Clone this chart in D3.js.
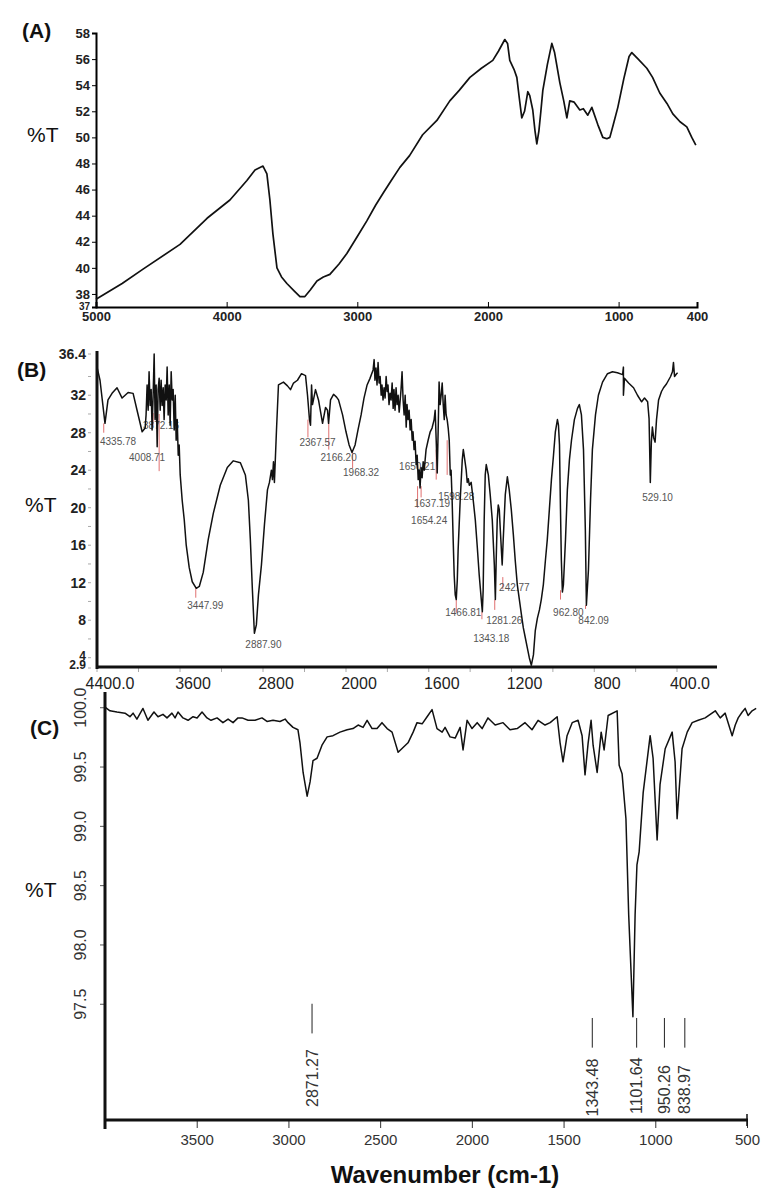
<!DOCTYPE html>
<html>
<head>
<meta charset="utf-8">
<script src="https://cdn.jsdelivr.net/npm/d3@7"></script>
<style>
  body { margin: 0; background: #fff; }
  svg { display: block; }
</style>
</head>
<body>
<svg id="chart"></svg>
<script>
// ---------- data (wavenumber cm-1, %T) ----------
const specA = [[5000,37.6],[4800,38.8],[4640,39.9],[4357,41.8],[4150,43.8],[3975,45.2],[3845,46.7],[3783,47.5],[3722,47.8],[3692,47.2],[3669,45.2],[3646,42.6],[3615,40.0],[3580,39.3],[3539,38.8],[3480,38.2],[3439,37.8],[3401,37.8],[3360,38.3],[3309,39.0],[3260,39.3],[3210,39.5],[3140,40.3],[3080,41.1],[3000,42.4],[2927,43.6],[2860,44.8],[2804,45.7],[2740,46.7],[2674,47.7],[2600,48.6],[2500,50.2],[2391,51.3],[2292,52.8],[2220,53.6],[2138,54.6],[2050,55.3],[1963,55.9],[1920,56.6],[1871,57.5],[1850,57.2],[1833,55.9],[1800,55.2],[1779,54.6],[1760,53.0],[1741,51.5],[1720,52.0],[1695,53.5],[1680,53.2],[1657,52.1],[1640,50.5],[1626,49.5],[1610,50.5],[1595,52.0],[1580,53.6],[1545,55.6],[1511,57.2],[1490,56.5],[1450,54.2],[1420,52.8],[1396,51.5],[1374,52.8],[1340,52.7],[1297,52.1],[1270,52.2],[1236,51.7],[1205,52.3],[1160,51.0],[1121,50.0],[1090,49.9],[1067,50.0],[1040,51.0],[1006,52.3],[960,54.5],[920,56.2],[899,56.5],[850,56.0],[784,55.3],[740,54.6],[685,53.4],[630,52.6],[585,51.8],[530,51.2],[478,50.8],[440,50.0],[409,49.4]];
const ticksAx = [5000, 4000, 3000, 2000, 1000, 400];
const ticksAy = [37, 38, 40, 42, 44, 46, 48, 50, 52, 54, 56, 58];

const specB = [[4400,35.0],[4371,33.6],[4323,29.0],[4294,31.5],[4255,32.2],[4207,32.8],[4158,31.7],[4100,32.3],[4052,32.2],[4014,30.4],[3965,28.1],[3936,28.5],
  [3927,29.9],[3917,33.1],[3907,30.4],[3898,34.5],[3888,30.9],[3878,32.6],[3869,28.3],[3859,32.0],[3849,36.4],[3840,29.4],[3830,33.1],[3820,26.5],[3811,32.6],[3801,33.8],[3791,30.4],[3782,33.6],[3772,30.9],[3762,32.8],[3753,29.4],[3743,33.1],[3733,31.5],[3724,35.0],[3714,29.9],[3704,33.1],[3695,28.8],[3685,34.5],[3675,31.5],[3666,32.6],[3656,28.3],[3646,32.0],[3637,27.2],[3627,29.4],[3617,25.6],[3608,26.7],[3598,23.5],
  [3579,20.8],[3559,18.7],[3540,16.0],[3511,13.6],[3482,12.1],[3443,11.4],[3414,11.6],[3376,13.1],[3328,16.6],[3279,19.4],[3212,22.4],[3144,24.3],[3086,25.0],[3018,24.8],[2970,23.5],[2941,20.8],[2922,16.6],[2902,11.2],[2883,6.6],[2864,7.5],[2844,10.7],[2815,13.9],[2786,18.2],[2757,21.9],[2738,22.7],[2719,24.0],[2709,23.0],[2699,24.9],[2690,22.7],[2670,28.3],[2651,33.1],[2603,33.4],[2564,33.0],[2535,32.6],[2506,33.3],[2468,33.6],[2429,34.3],[2390,34.1],[2371,32.0],[2352,29.4],[2342,28.8],[2332,33.1],[2323,31.0],[2294,32.6],[2265,31.5],[2226,29.0],[2197,30.7],[2178,30.4],[2168,29.0],[2149,31.5],[2120,32.1],[2091,31.8],[2072,31.5],[2033,29.9],[2000,28.1],[1985,26.7],[1971,25.9],[1956,26.7],[1942,28.3],[1927,29.9],[1913,31.7],[1898,33.1],[1884,33.8],
  [1869,34.7],[1864,35.8],[1860,33.6],[1855,34.9],[1850,33.1],[1845,35.5],[1840,33.3],[1835,34.0],[1830,32.0],[1826,33.1],[1821,31.5],[1816,32.8],[1811,31.7],[1806,34.0],[1801,32.4],[1797,33.1],[1792,31.0],[1787,32.2],[1782,31.5],[1777,33.3],[1772,30.6],[1768,32.6],[1763,30.4],[1758,32.8],[1753,31.0],[1748,32.0],[1743,30.2],[1738,31.5],[1734,32.6],[1729,34.5],[1724,31.5],[1719,29.9],[1714,32.0],[1709,28.6],[1705,31.0],[1700,29.4],[1695,30.4],[1690,28.3],[1685,29.4],[1680,27.2],[1676,28.1],[1671,26.2],[1666,27.1],[1661,24.6],[1656,25.6],[1651,23.0],[1646,24.0],[1642,22.1],[1637,24.3],[1632,23.2],[1627,24.9],[1622,24.0],[1613,26.2],[1603,27.2],[1593,28.1],[1584,28.5],[1574,29.4],[1569,30.4],[1564,27.2],[1559,23.7],[1554,28.8],[1550,33.4],[1545,31.0],[1540,32.0],[1535,33.3],[1530,31.0],[1525,29.4],[1521,32.0],[1516,29.9],[1511,29.4],[1506,28.5],[1501,27.2],[1496,23.5],[1492,24.0],[1487,20.8],[1482,16.6],[1477,12.8],[1472,10.7],[1467,10.2],[1462,12.3],[1458,15.5],[1448,20.8],[1438,25.1],[1433,26.2],[1429,25.6],[1419,24.0],[1414,22.7],[1409,23.1],[1404,22.4],[1395,22.7],[1385,20.8],[1375,18.7],[1366,16.0],[1356,12.8],[1346,10.2],[1341,8.9],[1337,11.2],[1332,18.7],[1327,23.5],[1322,24.6],[1312,23.5],[1303,21.4],[1293,18.7],[1283,13.9],[1278,10.2],[1274,14.4],[1269,18.7],[1264,20.3],[1259,19.8],[1254,17.6],[1245,13.9],[1240,16.6],[1230,21.4],[1220,23.3],[1211,21.9],[1201,19.8],[1191,17.1],[1182,14.4],[1172,11.8],[1162,10.2],[1152,8.6],[1143,7.2],[1133,6.1],[1123,5.0],[1114,4.0],[1104,3.2],[1094,4.3],[1085,6.9],[1075,8.2],[1065,9.1],[1056,10.2],[1046,11.8],[1036,14.4],[1027,16.6],[1017,19.8],[1007,23.0],[997,25.6],[988,28.1],[978,29.4],[973,28.8],[968,26.7],[964,20.8],[959,14.4],[954,11.0],[949,11.8],[939,16.6],[930,21.9],[920,25.1],[910,27.2],[896,29.4],[881,30.6],[872,31.0],[862,29.9],[852,26.2],[843,17.6],[838,9.6],[828,13.4],[818,20.8],[809,26.2],[794,29.9],[780,32.0],[760,33.4],[736,34.3],[712,34.5],[688,34.4],[663,34.2],[659,35.0],[659,32.0],[654,33.8],[634,33.3],[610,32.8],[591,32.0],[571,31.3],[557,31.7],[542,31.3],[535,29.5],[529,22.7],[524,27.0],[519,28.6],[513,27.5],[506,27.0],[499,29.4],[489,31.5],[475,32.4],[465,32.8],[451,33.2],[441,33.6],[431,34.0],[422,34.5],[417,35.5],[412,34.0],[402,34.3],[397,34.4]];
const ticksBx = [4400, 3600, 2800, 2000, 1600, 1200, 800, 400];
const tickTextBx = ["4400.0", "3600", "2800", "2000", "1600", "1200", "800", "400.0"];
const minorBx = [4400, 4000, 3600, 3200, 2800, 2400, 2000, 1800, 1600, 1400, 1200, 1000, 800, 600, 400];
const ticksBy = [2.9, 4, 8, 12, 16, 20, 24, 28, 32, 36.4];
const tickTextBy = ["2.9", "4", "8", "12", "16", "20", "24", "28", "32", "36.4"];
const minorBy = [6, 10, 14, 18, 22, 26, 30, 34];

// peak annotations of (B): label text, label centre (wavenumber, %T at baseline)
const peakTextB  = ["4335.78","3872.16","4008.71","3447.99","2887.90","2367.57","2166.20","1968.32","1650.21","1637.19","1654.24","1598.28","242.77","1466.81","1281.26","1343.18","962.80","842.09","529.10"];
const peakLabelWB = [4197, 3782, 3917, 3357, 2796, 2274, 2071, 1927, 1656, 1584, 1598, 1467, 1186, 1433, 1235, 1298, 925, 803, 494];
const peakLabelTB = [26.7, 28.4, 25.0, 9.2, 5.0, 26.6, 25.0, 23.4, 24.0, 20.1, 18.3, 20.8, 11.1, 8.4, 7.6, 5.7, 8.4, 7.6, 20.7];
// red marker lines of (B): wavenumber, %T top, %T bottom
const markWB   = [4335, 3859, 3801, 3448, 2367, 2166, 1968, 1654, 1637, 1564, 1511, 1242, 1467, 1281, 1343, 963, 842];
const markTopB = [29.0, 30.1, 30.0, 11.4, 29.4, 29.0, 25.9, 22.3, 22.3, 26.2, 27.2, 12.6, 10.2, 10.2, 8.9, 11.2, 9.6];
const markBotB = [28.0, 28.8, 23.9, 10.4, 27.5, 26.2, 24.2, 20.0, 21.1, 23.0, 23.5, 11.3, 8.8, 9.1, 8.1, 10.2, 9.2];

const specC = [[4000,100.0],[3973,99.97],[3935,99.96],[3891,99.95],[3864,99.92],[3847,99.95],[3826,99.90],[3793,99.99],[3766,99.89],[3733,99.96],[3711,99.92],[3684,99.94],[3662,99.91],[3635,99.95],[3618,99.91],[3602,99.96],[3575,99.91],[3547,99.89],[3520,99.92],[3498,99.91],[3471,99.96],[3444,99.91],[3422,99.89],[3389,99.91],[3357,99.87],[3329,99.90],[3302,99.87],[3275,99.91],[3253,99.91],[3220,99.89],[3182,99.89],[3144,99.91],[3117,99.88],[3084,99.89],[3046,99.88],[3018,99.90],[3002,99.87],[2975,99.83],[2948,99.81],[2937,99.70],[2920,99.45],[2898,99.25],[2882,99.37],[2866,99.55],[2844,99.57],[2817,99.68],[2789,99.75],[2757,99.76],[2719,99.79],[2680,99.81],[2648,99.82],[2620,99.85],[2593,99.83],[2571,99.89],[2544,99.82],[2517,99.82],[2490,99.87],[2462,99.82],[2435,99.79],[2402,99.62],[2375,99.66],[2348,99.70],[2320,99.79],[2299,99.87],[2271,99.86],[2244,99.92],[2217,99.98],[2190,99.82],[2162,99.79],[2146,99.83],[2119,99.75],[2091,99.74],[2064,99.83],[2048,99.64],[2026,99.89],[1999,99.82],[1971,99.87],[1944,99.82],[1912,99.91],[1873,99.85],[1830,99.87],[1792,99.81],[1753,99.82],[1710,99.87],[1672,99.81],[1639,99.89],[1601,99.85],[1573,99.87],[1535,99.92],[1519,99.70],[1503,99.54],[1481,99.76],[1453,99.87],[1421,99.89],[1399,99.76],[1383,99.43],[1366,99.70],[1350,99.89],[1339,99.68],[1317,99.45],[1295,99.79],[1279,99.64],[1257,99.93],[1208,99.97],[1197,99.51],[1181,99.44],[1160,99.06],[1145,98.25],[1122,97.39],[1110,98.25],[1100,98.67],[1088,98.78],[1066,99.28],[1028,99.76],[1012,99.57],[990,98.88],[974,99.35],[946,99.65],[908,99.79],[892,99.54],[881,99.06],[854,99.65],[826,99.79],[799,99.87],[766,99.89],[728,99.91],[673,99.97],[646,99.91],[619,99.95],[581,99.76],[564,99.85],[548,99.91],[526,99.96],[510,99.99],[494,99.93],[472,99.97],[450,99.99]];
const ticksCx = [3500, 3000, 2500, 2000, 1500, 1000, 500];
const ticksCy = [97.5, 98.0, 98.5, 99.0, 99.5, 100.0];
const peakWC = [2871.27, 1343.48, 1101.64, 950.26, 838.97];
const peakTextC = ["2871.27", "1343.48", "1101.64", "950.26", "838.97"];
const peakLineTopC = [97.50, 97.38, 97.38, 97.38, 97.38];
const peakLineBotC = [97.25, 97.13, 97.13, 97.13, 97.13];
const peakLabelTC = [96.63, 96.55, 96.57, 96.57, 96.57];

// ---------- drawing ----------
const W = 775, H = 1197;
const svg = d3.select('#chart').attr('width', W).attr('height', H)
  .style('font-family', 'Liberation Sans, Arial, sans-serif');
svg.append('rect').attr('width', W).attr('height', H).attr('fill', '#fff');

const narrow = '"Liberation Sans Narrow", "Arial Narrow", "Liberation Sans", sans-serif';

// panel letters and %T titles
const titles = [['(A)', 22, 38, 'bold'], ['(B)', 17, 377, 'bold'], ['(C)', 30, 735, 'bold'],
                ['%T', 27, 142, 'normal'], ['%T', 25, 512, 'normal'], ['%T', 25, 897, 'normal']];
titles.forEach(t => {
  svg.append('text').attr('x', t[1]).attr('y', t[2]).attr('font-size', 21)
    .attr('font-weight', t[3]).attr('fill', '#111').text(t[0]);
});

// ===== (A) =====
const xA = d3.scaleLinear().domain([5000, 400]).range([96, 697]);
const yA = d3.scaleLinear().domain([37, 58]).range([307, 33]);
const gA = svg.append('g');

gA.append('g').attr('transform', 'translate(0,307)')
  .call(d3.axisBottom(xA).tickValues(ticksAx).tickSize(-5).tickPadding(11).tickFormat(d3.format('d')))
  .call(g => g.select('.domain').attr('stroke-width', 2))
  .call(g => g.selectAll('text').attr('font-family', narrow).attr('font-weight', 'bold').attr('font-size', 13).attr('fill', '#222').attr('dy', '0.2em'));
gA.append('g').attr('transform', 'translate(96,0)')
  .call(d3.axisLeft(yA).tickValues(ticksAy).tickSize(4).tickPadding(2))
  .call(g => g.select('.domain').attr('stroke-width', 2))
  .call(g => g.selectAll('text').attr('font-family', narrow).attr('font-weight', 'bold')
    .attr('font-size', d => d === 37 ? 10 : 13).attr('dy', d => d === 37 ? '0.2em' : '0.32em').attr('fill', '#222'));

gA.append('path').datum(specA)
  .attr('fill', 'none').attr('stroke', '#111').attr('stroke-width', 1.7).attr('stroke-linejoin', 'round')
  .attr('d', d3.line().x(d => xA(d[0])).y(d => yA(d[1])));

// ===== (B) =====
// the instrument scale doubles below 2000 cm-1
const xB = d3.scaleLinear().domain([4400, 2000, 400, 206]).range([97, 346, 677, 717]);
const yB = d3.scaleLinear().domain([2.9, 36.4]).range([668, 354]);
const gB = svg.append('g');

gB.selectAll('line.minorx').data(minorBx).join('line')
  .attr('x1', d => xB(d)).attr('x2', d => xB(d)).attr('y1', 668).attr('y2', 672)
  .attr('stroke', '#aaa').attr('stroke-width', 1);
gB.selectAll('text.tickx').data(ticksBx).join('text')
  .attr('x', d => xB(d) + 13).attr('y', 689).attr('text-anchor', 'middle')
  .attr('font-size', 16).attr('fill', '#222').text((d, i) => tickTextBx[i]);
gB.selectAll('line.minory').data(minorBy.concat(ticksBy)).join('line')
  .attr('x1', 88).attr('x2', 91).attr('y1', d => yB(d)).attr('y2', d => yB(d))
  .attr('stroke', '#aaa').attr('stroke-width', 1);
gB.selectAll('text.ticky').data(ticksBy).join('text')
  .attr('x', 86).attr('y', d => yB(d)).attr('dy', d => d === 2.9 ? '0.1em' : (d === 4 ? '0.2em' : '0.35em'))
  .attr('text-anchor', 'end')
  .attr('font-size', d => (d === 2.9 || d === 4) ? 12 : 14).attr('font-weight', 'bold').attr('fill', '#222')
  .text((d, i) => tickTextBy[i]);

// red peak markers and grey labels
gB.selectAll('line.mark').data(markWB).join('line')
  .attr('x1', d => xB(d)).attr('x2', d => xB(d))
  .attr('y1', (d, i) => yB(markTopB[i])).attr('y2', (d, i) => yB(markBotB[i]))
  .attr('stroke', '#e07070').attr('stroke-width', 1);
gB.selectAll('text.peak').data(peakTextB).join('text')
  .attr('x', (d, i) => xB(peakLabelWB[i])).attr('y', (d, i) => yB(peakLabelTB[i]))
  .attr('text-anchor', 'middle').attr('font-size', 10).attr('fill', '#555').text(d => d);

gB.append('path').datum(specB)
  .attr('fill', 'none').attr('stroke', '#111').attr('stroke-width', 1.5).attr('stroke-linejoin', 'round')
  .attr('d', d3.line().x(d => xB(d[0])).y(d => yB(d[1])));

gB.append('line').attr('x1', 97).attr('x2', 97).attr('y1', 351).attr('y2', 669)
  .attr('stroke', '#111').attr('stroke-width', 3);
gB.append('line').attr('x1', 96).attr('x2', 717).attr('y1', 667).attr('y2', 667)
  .attr('stroke', '#111').attr('stroke-width', 3);

// ===== (C) =====
const xC = d3.scaleLinear().domain([4000, 500]).range([105, 747]);
const yC = d3.scaleLinear().domain([96.52, 100.12]).range([1120, 693]);
const gC = svg.append('g');

gC.append('g').attr('transform', 'translate(0,1120)')
  .call(d3.axisBottom(xC).tickValues(ticksCx).tickSize(8).tickPadding(6).tickFormat(d3.format('d')))
  .call(g => g.select('.domain').remove())
  .call(g => g.selectAll('line').attr('stroke', '#333'))
  .call(g => g.selectAll('text').attr('font-size', 15).attr('fill', '#333'));
gC.append('g').attr('transform', 'translate(105,0)')
  .call(d3.axisLeft(yC).tickValues(ticksCy).tickSize(5).tickFormat(d3.format('.1f')))
  .call(g => g.select('.domain').remove())
  .call(g => g.selectAll('line').attr('stroke', '#555'))
  .call(g => g.selectAll('text').attr('font-size', 16).attr('fill', '#333')
    .attr('text-anchor', 'middle').attr('dy', null).attr('dominant-baseline', 'central')
    .attr('transform', 'translate(-25,0) rotate(-90)').attr('x', 0));

gC.selectAll('line.pk').data(peakWC).join('line')
  .attr('x1', d => xC(d)).attr('x2', d => xC(d))
  .attr('y1', (d, i) => yC(peakLineTopC[i])).attr('y2', (d, i) => yC(peakLineBotC[i]))
  .attr('stroke', '#222').attr('stroke-width', 1);
gC.selectAll('text.pk').data(peakWC).join('text')
  .attr('transform', (d, i) => `translate(${xC(d)},${yC(peakLabelTC[i])}) rotate(-90)`)
  .attr('dominant-baseline', 'central').attr('font-size', 16).attr('fill', '#333')
  .text((d, i) => peakTextC[i]);

gC.append('path').datum(specC)
  .attr('fill', 'none').attr('stroke', '#111').attr('stroke-width', 1.5).attr('stroke-linejoin', 'round')
  .attr('d', d3.line().x(d => xC(d[0])).y(d => yC(d[1])));

gC.append('line').attr('x1', 105).attr('x2', 105).attr('y1', 692).attr('y2', 1129)
  .attr('stroke', '#111').attr('stroke-width', 3);
gC.append('line').attr('x1', 104).attr('x2', 748).attr('y1', 1120).attr('y2', 1120)
  .attr('stroke', '#111').attr('stroke-width', 3);
gC.append('line').attr('x1', 747).attr('x2', 747).attr('y1', 1114).attr('y2', 1126)
  .attr('stroke', '#111').attr('stroke-width', 1.5);

svg.append('text').attr('x', 445).attr('y', 1183).attr('text-anchor', 'middle')
  .attr('font-size', 24).attr('font-weight', 'bold').attr('fill', '#111')
  .text('Wavenumber (cm-1)');
</script>
</body>
</html>
